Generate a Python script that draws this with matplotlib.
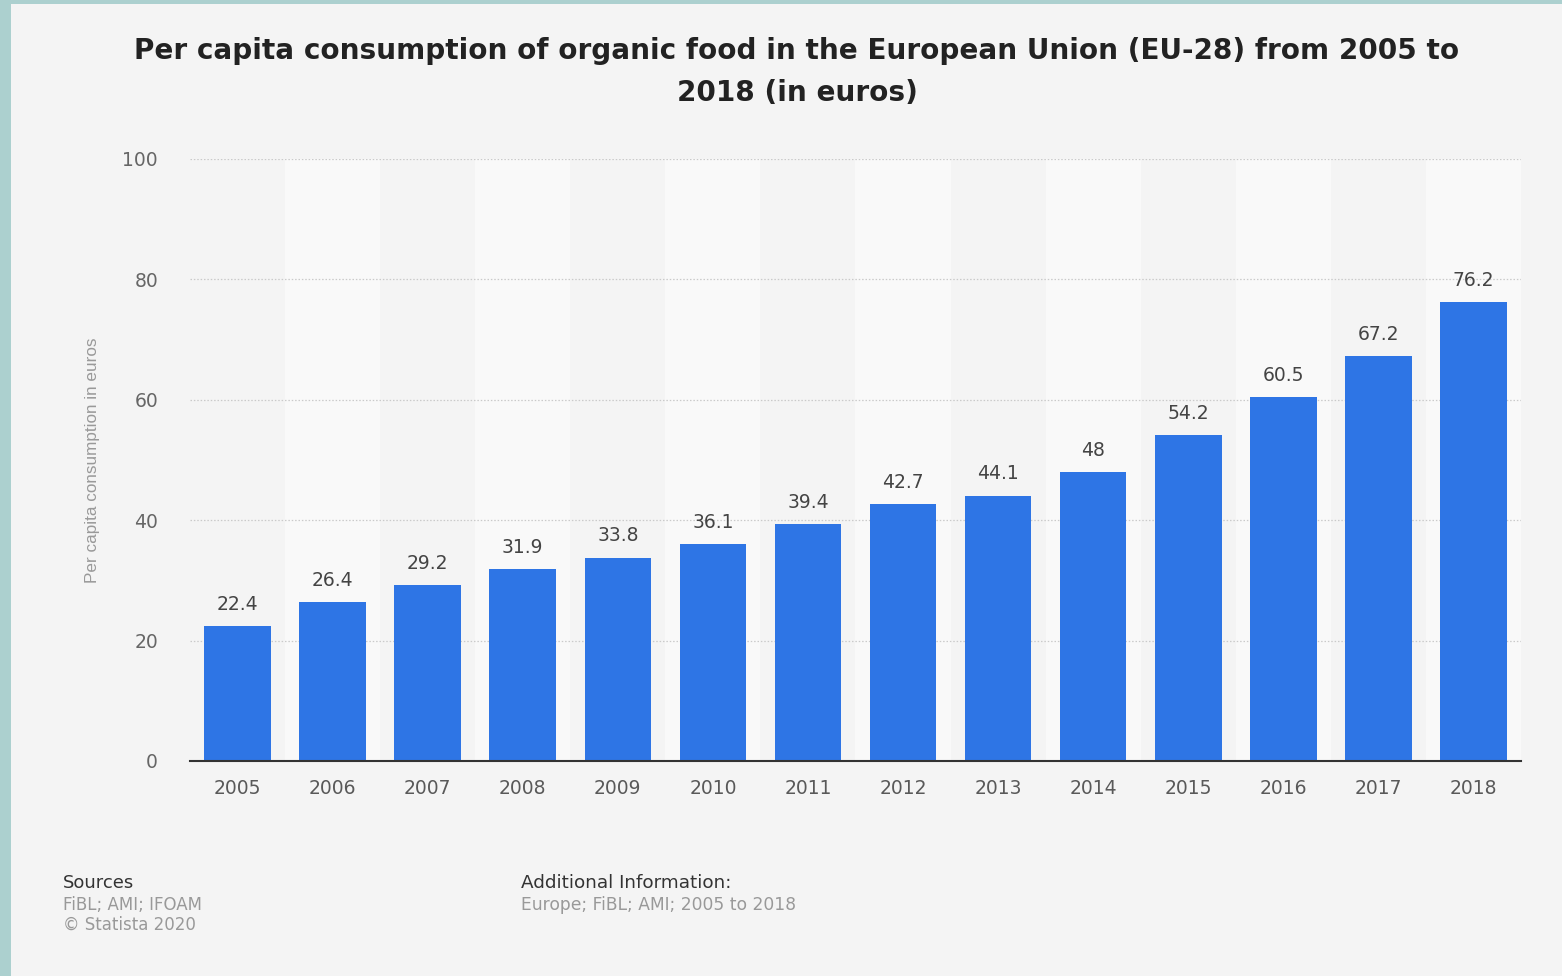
import matplotlib
matplotlib.use("Agg")
import matplotlib.pyplot as plt
from matplotlib.patches import Rectangle

# Data
years = ["2005", "2006", "2007", "2008", "2009", "2010", "2011",
         "2012", "2013", "2014", "2015", "2016", "2017", "2018"]
values = [22.4, 26.4, 29.2, 31.9, 33.8, 36.1, 39.4,
          42.7, 44.1, 48, 54.2, 60.5, 67.2, 76.2]
value_labels = ["22.4", "26.4", "29.2", "31.9", "33.8", "36.1", "39.4",
                "42.7", "44.1", "48", "54.2", "60.5", "67.2", "76.2"]
y_ticks = [0, 20, 40, 60, 80, 100]

title = "Per capita consumption of organic food in the European Union (EU-28) from 2005 to\n2018 (in euros)"
y_label = "Per capita consumption in euros"

BG = "#f4f4f4"
BAND = "#f9f9f9"
BAR = "#2e75e5"
FRAME = "#acd0cf"

plt.rcParams["font.family"] = ["DejaVu Sans"]

fig = plt.figure(figsize=(15.62, 9.76), dpi=100)
fig.patch.set_facecolor(FRAME)

# light page inside the teal frame
fig.patches.append(Rectangle((11 / 1562, 0), 1 - 11 / 1562, 1 - 4 / 976,
                             transform=fig.transFigure, facecolor=BG,
                             edgecolor="none", zorder=-10))

ax = fig.add_axes([190 / 1562, 1 - 761 / 976, (1521 - 190) / 1562, (761 - 159) / 976])
ax.set_facecolor(BG)

x = list(range(len(years)))
ax.set_xlim(-0.5, len(years) - 0.5)
ax.set_ylim(0, 100)

# alternating column bands
for i in x:
    if i % 2 == 1:
        ax.axvspan(i - 0.5, i + 0.5, color=BAND, zorder=0, lw=0)

ax.yaxis.grid(True, color="#cacaca", linestyle=(0, (1.2, 1.5)), linewidth=0.9, zorder=1)
ax.set_axisbelow(True)

ax.bar(x, values, width=0.7, color=BAR, zorder=2)

for xi, v, lab in zip(x, values, value_labels):
    ax.text(xi, v + 2.0, lab, ha="center", va="bottom", fontsize=13.5, color="#444444", zorder=3)

ax.set_xticks(x)
ax.set_xticklabels(years, fontsize=13.5, color="#595959")
ax.set_yticks(y_ticks)
ax.set_yticklabels([str(t) for t in y_ticks], fontsize=13.5, color="#666666")
ax.tick_params(axis="both", length=0)
ax.tick_params(axis="x", pad=13)
ax.tick_params(axis="y", pad=23)

for s in ["top", "right", "left"]:
    ax.spines[s].set_visible(False)
ax.spines["bottom"].set_color("#333333")
ax.spines["bottom"].set_linewidth(1.5)
ax.spines["bottom"].set_zorder(4)

fig.text(93 / 1562, 1 - 460 / 976, y_label, rotation=90, ha="center", va="center",
         fontsize=12.3, color="#999999", family=["Liberation Sans", "DejaVu Sans"])

fig.text(797 / 1562, 1 - 72 / 976, title, ha="center", va="center", fontsize=20.1,
         fontweight="bold", color="#222222", linespacing=1.65)

# footer
fig.text(63 / 1562, 1 - 883 / 976, "Sources", ha="left", va="center", fontsize=13, color="#333333")
fig.text(63 / 1562, 1 - 905 / 976, "FiBL; AMI; IFOAM", ha="left", va="center", fontsize=12, color="#999999")
fig.text(63 / 1562, 1 - 925 / 976, "\u00a9 Statista 2020", ha="left", va="center", fontsize=12, color="#999999")
fig.text(521 / 1562, 1 - 883 / 976, "Additional Information:", ha="left", va="center", fontsize=13.2, color="#333333")
fig.text(521 / 1562, 1 - 905 / 976, "Europe; FiBL; AMI; 2005 to 2018", ha="left", va="center", fontsize=12.3, color="#999999")

fig.savefig("out.png", dpi=100, facecolor=fig.get_facecolor())
